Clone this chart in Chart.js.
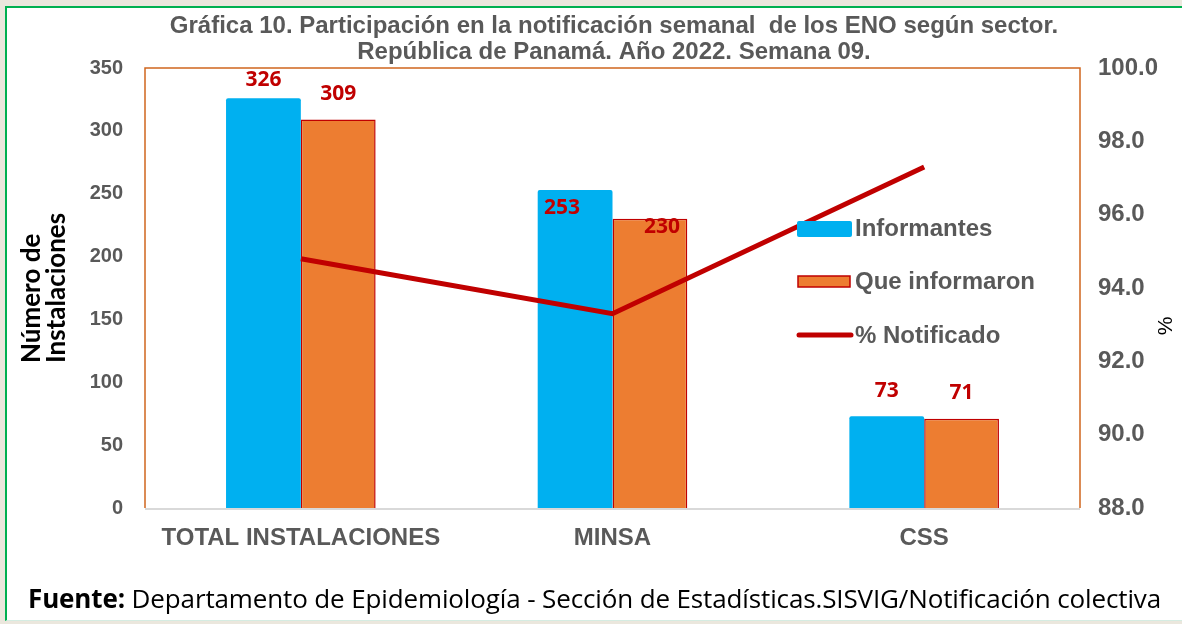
<!DOCTYPE html>
<html>
<head>
<meta charset="utf-8">
<script src="https://cdn.jsdelivr.net/npm/chart.js@4/dist/chart.umd.min.js"></script>
<style>
  html, body { margin: 0; padding: 0; background: #ebe7dd; }
  #wrap { position: relative; width: 1182px; height: 624px; overflow: hidden; }
  #box { position: absolute; left: 5px; top: 6px; width: 1177px; height: 615px; background: #fff;
         border-left: 2px solid #00b050; border-top: 2px solid #00b050; border-bottom: 1px solid #d5ece2; box-sizing: border-box; }
  #chart { position: absolute; left: 0; top: 0; }
  #fuente { position: absolute; left: 28px; top: 580px; font-family: "Open Sans", sans-serif; font-size: 26px;
            color: #000; white-space: nowrap; letter-spacing: -0.13px; }
</style>
</head>
<body>
<div id="wrap">
  <div id="box"></div>
  <canvas id="chart" width="1182" height="624"></canvas>
  <div id="fuente"><b>Fuente:</b> Departamento de Epidemiología - Sección de Estadísticas.SISVIG/Notificación colectiva</div>
</div>
<script>
// datos
const categorias = ['TOTAL INSTALACIONES', 'MINSA', 'CSS'];
const informantes = [326, 253, 73];
const queInformaron = [309, 230, 71];
const pctNotificado = [94.8, 93.3, 97.3];
const tituloLineas = ['Gráfica 10. Participación en la notificación semanal  de los ENO según sector.',
                      'República de Panamá. Año 2022. Semana 09.'];

const GRIS = '#595959';
const ROJO = '#c00000';
const AZUL = '#00b0f0';
const NARANJA = '#ed7d31';
const ARIAL = '"Liberation Sans", Arial, sans-serif';

// desplazamiento de las etiquetas respecto al tope de cada barra
const offsetsEtiquetas = [
  [[0, -18], [-13, 18], [0, -25]],
  [[0, -26], [12, 8], [0, -26]]
];

const extras = {
  id: 'extras',
  beforeDatasetsDraw(chart) {
    const { ctx, chartArea: a } = chart;
    ctx.save();
    // borde del área de trazado
    ctx.strokeStyle = '#d0661e';
    ctx.lineWidth = 1.5;
    ctx.beginPath();
    ctx.moveTo(a.left, a.bottom);
    ctx.lineTo(a.left, a.top);
    ctx.lineTo(a.right, a.top);
    ctx.lineTo(a.right, a.bottom);
    ctx.stroke();
    ctx.restore();
  },
  afterDatasetsDraw(chart) {
    const { ctx, chartArea: a } = chart;
    ctx.save();
    ctx.strokeStyle = '#d9d9d9';
    ctx.lineWidth = 2;
    ctx.beginPath();
    ctx.moveTo(a.left, a.bottom + 1);
    ctx.lineTo(a.right, a.bottom + 1);
    ctx.stroke();

    // etiquetas de valores
    ctx.font = 'bold 21px "Open Sans", sans-serif';
    ctx.fillStyle = ROJO;
    ctx.textAlign = 'center';
    ctx.textBaseline = 'middle';
    [0, 1].forEach(di => {
      const meta = chart.getDatasetMeta(di);
      meta.data.forEach((bar, i) => {
        const o = offsetsEtiquetas[di][i];
        ctx.fillText(chart.data.datasets[di].data[i], bar.x + o[0], bar.y + o[1]);
      });
    });

    // título
    ctx.font = 'bold 24px ' + ARIAL;
    ctx.fillStyle = GRIS;
    ctx.fillText(tituloLineas[0], 614, 26);
    ctx.fillText(tituloLineas[1], 614, 52);

    // leyenda
    ctx.font = 'bold 24px ' + ARIAL;
    ctx.textAlign = 'left';
    ctx.fillStyle = AZUL;
    ctx.beginPath();
    ctx.roundRect(797, 221, 55, 16, 2);
    ctx.fill();
    ctx.fillStyle = NARANJA;
    ctx.fillRect(798, 276, 52, 11);
    ctx.strokeStyle = ROJO;
    ctx.lineWidth = 1.5;
    ctx.strokeRect(798, 276, 52, 11);
    ctx.strokeStyle = ROJO;
    ctx.lineWidth = 5;
    ctx.lineCap = 'round';
    ctx.beginPath();
    ctx.moveTo(799, 335);
    ctx.lineTo(851, 335);
    ctx.stroke();
    ctx.fillStyle = GRIS;
    ctx.fillText(chart.data.datasets[0].label, 855, 229);
    ctx.fillText(chart.data.datasets[1].label, 855, 282);
    ctx.fillText(chart.data.datasets[2].label, 855, 336);

    // títulos de ejes
    ctx.fillStyle = '#000';
    ctx.font = 'bold 26px Lato, sans-serif';
    ctx.save();
    ctx.translate(32, 363);
    ctx.rotate(-Math.PI / 2);
    ctx.textAlign = 'left';
    ctx.fillText('Número de', 0, 0);
    ctx.fillText('Instalaciones', 0, 25);
    ctx.restore();

    ctx.font = '21px ' + ARIAL;
    ctx.save();
    ctx.translate(1166, 326);
    ctx.rotate(-Math.PI / 2);
    ctx.textAlign = 'center';
    ctx.fillText('%', 0, 0);
    ctx.restore();
    ctx.restore();
  }
};

new Chart(document.getElementById('chart'), {
  type: 'bar',
  data: {
    labels: categorias,
    datasets: [
      { label: 'Informantes', data: informantes, backgroundColor: AZUL, borderRadius: { topLeft: 2, topRight: 2 },
        borderSkipped: 'bottom', categoryPercentage: 0.48, barPercentage: 1, order: 2, yAxisID: 'y' },
      { label: 'Que informaron', data: queInformaron, backgroundColor: NARANJA, borderColor: ROJO, borderWidth: 1.5,
        borderSkipped: 'bottom', categoryPercentage: 0.48, barPercentage: 1, order: 2, yAxisID: 'y' },
      { type: 'line', label: '% Notificado', data: pctNotificado, borderColor: ROJO, borderWidth: 5,
        pointRadius: 0, tension: 0, fill: false, order: 0, yAxisID: 'y1' }
    ]
  },
  options: {
    responsive: false,
    animation: false,
    layout: { padding: { top: 68, left: 0, right: 0, bottom: 0 } },
    plugins: { legend: { display: false }, tooltip: { enabled: false }, title: { display: false } },
    scales: {
      x: {
        grid: { display: false, drawTicks: false },
        border: { display: false },
        ticks: { color: GRIS, font: { family: ARIAL, size: 24, weight: 'bold' }, padding: 16 },
        afterFit(s) { s.height = 116; }
      },
      y: {
        position: 'left', min: 0, max: 350,
        grid: { display: false, drawTicks: false },
        border: { display: false },
        ticks: { stepSize: 50, color: GRIS, font: { family: ARIAL, size: 20, weight: 'bold' }, padding: 22 },
        afterFit(s) { s.width = 145; }
      },
      y1: {
        position: 'right', min: 88, max: 100,
        grid: { display: false, drawTicks: false },
        border: { display: false },
        ticks: { stepSize: 2, color: GRIS, font: { family: ARIAL, size: 24, weight: 'bold' }, padding: 18,
                 callback: v => v.toFixed(1) },
        afterFit(s) { s.width = 102; }
      }
    }
  },
  plugins: [extras]
});
</script>
</body>
</html>
